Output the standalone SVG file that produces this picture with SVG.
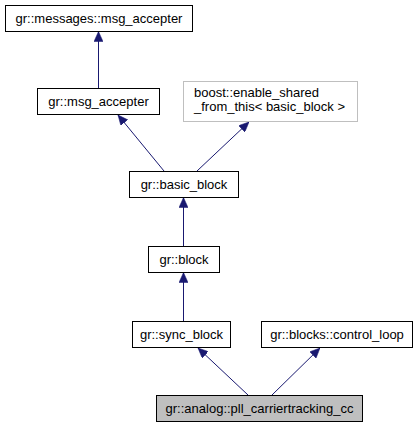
<svg xmlns="http://www.w3.org/2000/svg" width="419" height="427" viewBox="0 0 419 427">
<style>
.n{fill:#fff;stroke:#000;stroke-width:1}
.g{fill:#fff;stroke:#bfbfbf;stroke-width:1}
.h{fill:#bfbfbf;stroke:#000;stroke-width:1}
text{font-family:"Liberation Sans",Arial,Helvetica,sans-serif;font-size:13px;fill:#000}
.c{text-anchor:middle}
.e{fill:none;stroke:#191970;stroke-width:1;marker-end:url(#a)}
</style>
<defs>
<marker id="a" viewBox="0 0 10 9" refX="10" refY="4.5" markerWidth="10" markerHeight="9" markerUnits="userSpaceOnUse" orient="auto">
<path d="M0,0 L10,4.5 L0,9 z" fill="#191970" stroke="#191970" stroke-width="0.5"/>
</marker>
</defs>
<g id="edges">
<path class="e" d="M98.5,88 L98.5,31.5"/>
<path class="e" d="M164,171 L118,115"/>
<path class="e" d="M197,171 L249,122"/>
<path class="e" d="M183.5,246 L183.5,197.5"/>
<path class="e" d="M183.5,321 L183.5,272.5"/>
<path class="e" d="M248,395 L198,348"/>
<path class="e" d="M272,395 L320,348"/>
</g>
<g id="node_msgs_msg_accepter">
<rect class="n" x="5.5" y="5.5" width="187" height="26"/>
<text class="c" x="99" y="23">gr::messages::msg_accepter</text>
</g>
<g id="node_msg_accepter">
<rect class="n" x="37.5" y="88.5" width="122" height="26"/>
<text class="c" x="98.5" y="106">gr::msg_accepter</text>
</g>
<g id="node_enable_shared">
<rect class="g" x="183.5" y="81.5" width="174" height="40"/>
<text x="194" y="97">boost::enable_shared</text>
<text x="194" y="111">_from_this&lt; basic_block &gt;</text>
</g>
<g id="node_basic_block">
<rect class="n" x="129.5" y="171.5" width="109" height="26"/>
<text class="c" x="184" y="189">gr::basic_block</text>
</g>
<g id="node_block">
<rect class="n" x="148.5" y="246.5" width="71" height="26"/>
<text class="c" x="184" y="264">gr::block</text>
</g>
<g id="node_sync_block">
<rect class="n" x="132.5" y="321.5" width="98" height="26"/>
<text class="c" x="181.5" y="339">gr::sync_block</text>
</g>
<g id="node_control_loop">
<rect class="n" x="261.5" y="321.5" width="151" height="26"/>
<text class="c" x="337" y="339">gr::blocks::control_loop</text>
</g>
<g id="node_pll_carriertracking_cc">
<rect class="h" x="156.5" y="395.5" width="206" height="26"/>
<text class="c" x="259.5" y="413">gr::analog::pll_carriertracking_cc</text>
</g>
</svg>
